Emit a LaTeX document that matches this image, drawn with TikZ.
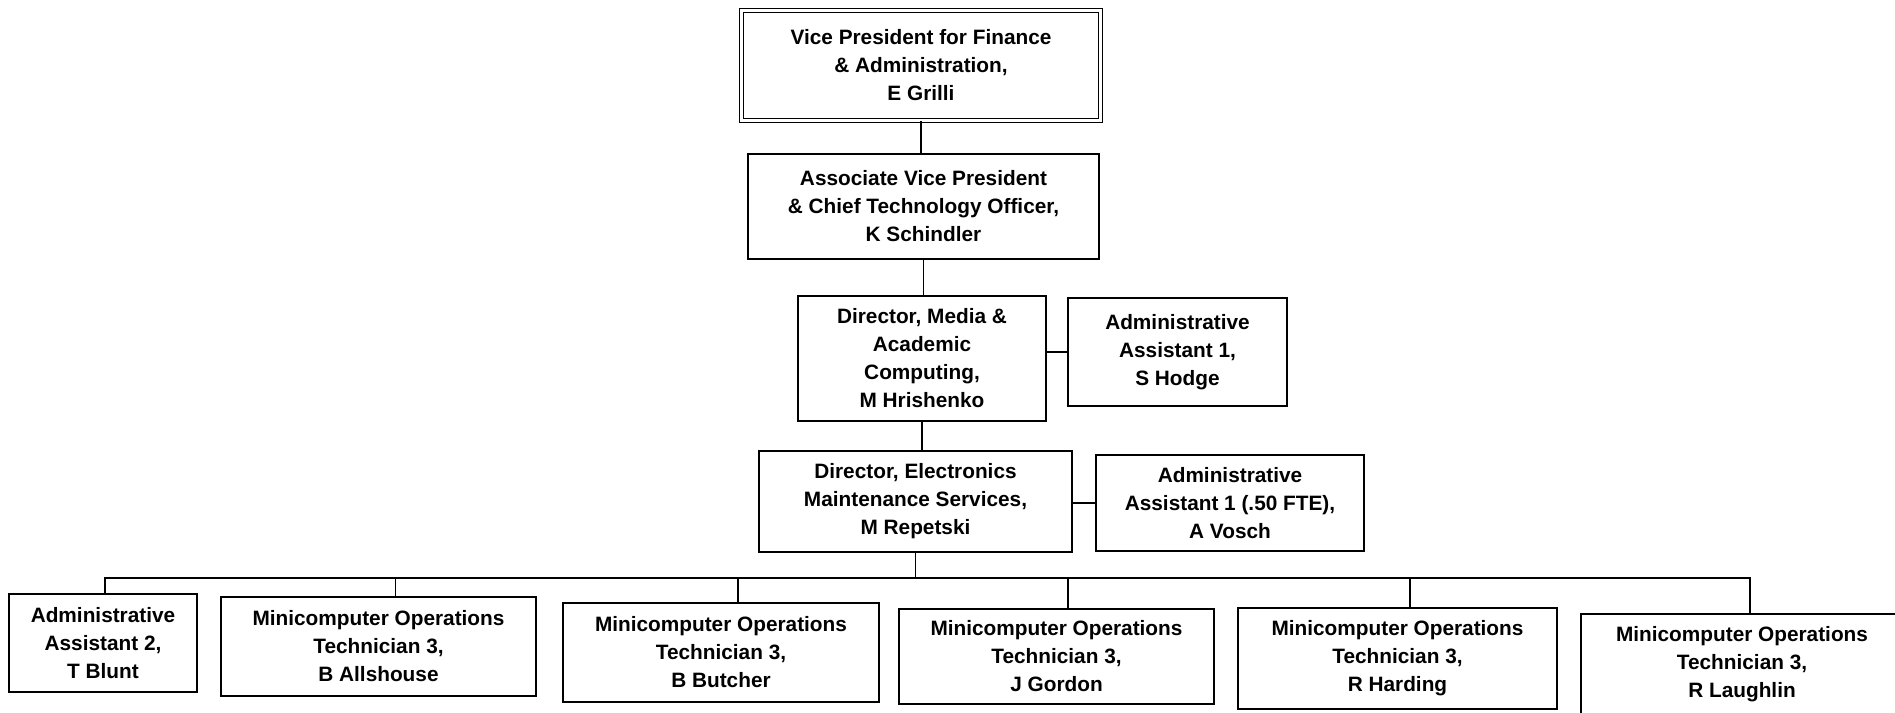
\documentclass[tikz,border=0pt]{standalone}
\usepackage{fontspec}
\setmainfont{Liberation Sans}
\begin{document}
\begin{tikzpicture}[x=1pt,y=-1pt,line width=1.5pt,
  every node/.style={font=\fontsize{20.8}{28}\selectfont\bfseries,align=center,inner sep=0pt},
  post/.style 2 args={draw,minimum width=#1,minimum height=#2}]
\useasboundingbox (0,0) rectangle (1895,712);
\node[post={359pt}{110pt},double,double distance=2.5pt,line width=1.3pt] (vp) at (921,65.5) {Vice President for Finance\\\& Administration,\\E Grilli};
\node[post={351pt}{105pt}] (avp) at (923.5,206.5) {Associate Vice President\\\& Chief Technology Officer,\\K Schindler};
\node[post={248pt}{125pt}] (dma) at (922,358.5) {Director, Media \&\\Academic\\Computing,\\M Hrishenko};
\node[post={219pt}{108pt}] (hodge) at (1177.5,352) {Administrative\\Assistant 1,\\S Hodge};
\node[post={313pt}{101pt}] (ems) at (915.5,501.5) {Director, Electronics\\Maintenance Services,\\M Repetski};
\node[post={268pt}{96pt}] (vosch) at (1230,503) {Administrative\\Assistant 1 (.50 FTE),\\A Vosch};
\node[post={188pt}{98pt}] (blunt) at (103,643) {Administrative\\Assistant 2,\\T Blunt};
\node[post={315pt}{99pt}] (allshouse) at (378.5,646.5) {Minicomputer Operations\\Technician 3,\\B Allshouse};
\node[post={316pt}{99pt}] (butcher) at (721,652.5) {Minicomputer Operations\\Technician 3,\\B Butcher};
\node[post={315pt}{95pt}] (gordon) at (1056.5,656.5) {Minicomputer Operations\\Technician 3,\\J Gordon};
\node[post={319pt}{101pt}] (harding) at (1397.5,658.5) {Minicomputer Operations\\Technician 3,\\R Harding};
\node[post={322pt}{100pt}] (laughlin) at (1742,664) {Minicomputer Operations\\Technician 3,\\R Laughlin};
\coordinate (bus) at (915.5,578);
\draw (vp.south) -- (vp.south |- avp.north);
\draw (avp.south) -- (avp.south |- dma.north);
\draw (dma.south) -- (dma.south |- ems.north);
\draw (hodge.west) -- (hodge.west -| dma.east);
\draw (vosch.west) -- (vosch.west -| ems.east);
\draw (ems.south) -- (bus);
\draw ([xshift=2pt]blunt.north) |- (bus) -| ([xshift=8pt]laughlin.north);
\foreach \n/\d in {allshouse/17,butcher/17,gordon/11.5,harding/12.5}
  \draw ([xshift=\d pt]\n.north) -- ([xshift=\d pt]\n.north |- bus);
\end{tikzpicture}
\end{document}
